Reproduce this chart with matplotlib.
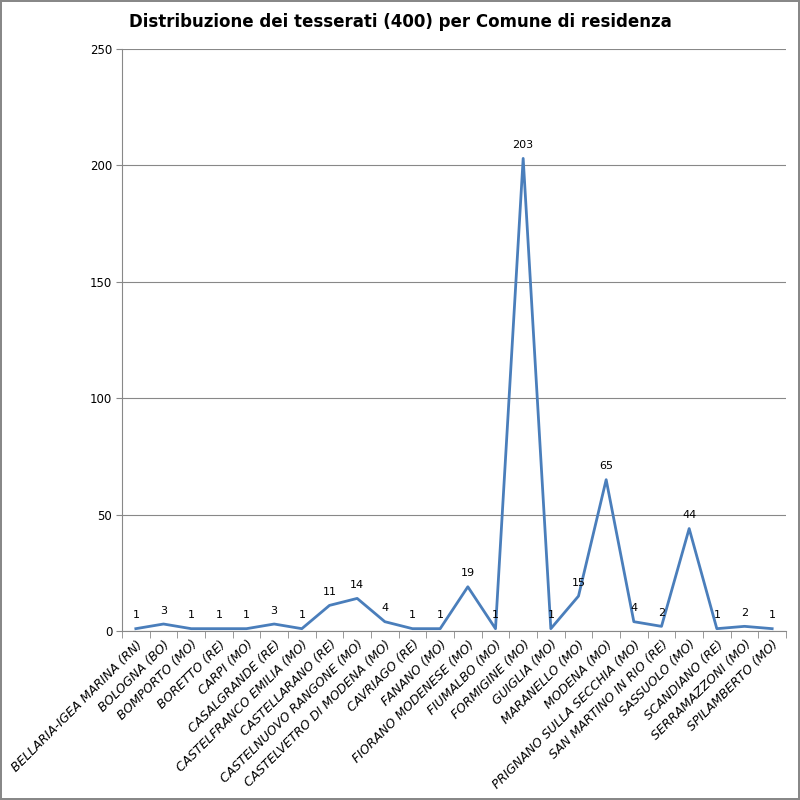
import matplotlib.pyplot as plt
import numpy as np

comuni = ['BELLARIA-IGEA MARINA (RN)', 'BOLOGNA (BO)', 'BOMPORTO (MO)', 'BORETTO (RE)',
          'CARPI (MO)', 'CASALGRANDE (RE)', 'CASTELFRANCO EMILIA (MO)', 'CASTELLARANO (RE)',
          'CASTELNUOVO RANGONE (MO)', 'CASTELVETRO DI MODENA (MO)', 'CAVRIAGO (RE)',
          'FANANO (MO)', 'FIORANO MODENESE (MO)', 'FIUMALBO (MO)', 'FORMIGINE (MO)',
          'GUIGLIA (MO)', 'MARANELLO (MO)', 'MODENA (MO)', 'PRIGNANO SULLA SECCHIA (MO)',
          'SAN MARTINO IN RIO (RE)', 'SASSUOLO (MO)', 'SCANDIANO (RE)', 'SERRAMAZZONI (MO)',
          'SPILAMBERTO (MO)']
tesserati = [1, 3, 1, 1, 1, 3, 1, 11, 14, 4, 1, 1, 19, 1, 203, 1, 15, 65, 4, 2, 44, 1, 2, 1]

fig = plt.figure(figsize=(8, 8), dpi=100)
fig.patch.set_edgecolor('#888888')
fig.patch.set_linewidth(1.5)
ax = fig.add_axes([0.1525, 0.21125, 0.83, 0.7275])

x = np.arange(len(comuni))
ax.plot(x, tesserati, color='#4A7EBB', linewidth=2.0)
for xi, v in zip(x, tesserati):
    ax.annotate(str(v), (xi, v), xytext=(0, 6), textcoords='offset points',
                ha='center', va='bottom', fontsize=8)

ax.set_xlim(-0.5, len(comuni) - 0.5)
ax.set_ylim(0, 250)
ax.set_yticks(range(0, 251, 50))
ax.yaxis.grid(True, color='#888888', linewidth=0.8)
ax.set_axisbelow(True)
for s in ['top', 'right']:
    ax.spines[s].set_visible(False)
ax.spines['left'].set_color('#888888')
ax.spines['bottom'].set_color('#888888')
ax.tick_params(axis='y', labelsize=8.5, length=4, color='#888888', pad=3)

# category labels centered, tick marks between categories
ax.set_xticks(x)
ax.set_xticklabels(comuni, rotation=45, ha='right', rotation_mode='anchor',
                   fontsize=9, style='italic')
ax.tick_params(axis='x', length=0, pad=5)
ax.set_xticks(np.arange(-0.5, len(comuni)), minor=True)
ax.tick_params(axis='x', which='minor', length=5, color='#888888')

fig.text(0.5, 0.972, 'Distribuzione dei tesserati (400) per Comune di residenza',
         ha='center', va='center', fontsize=12, fontweight='bold')

fig.savefig('out.png', dpi=100, edgecolor=fig.get_edgecolor())
